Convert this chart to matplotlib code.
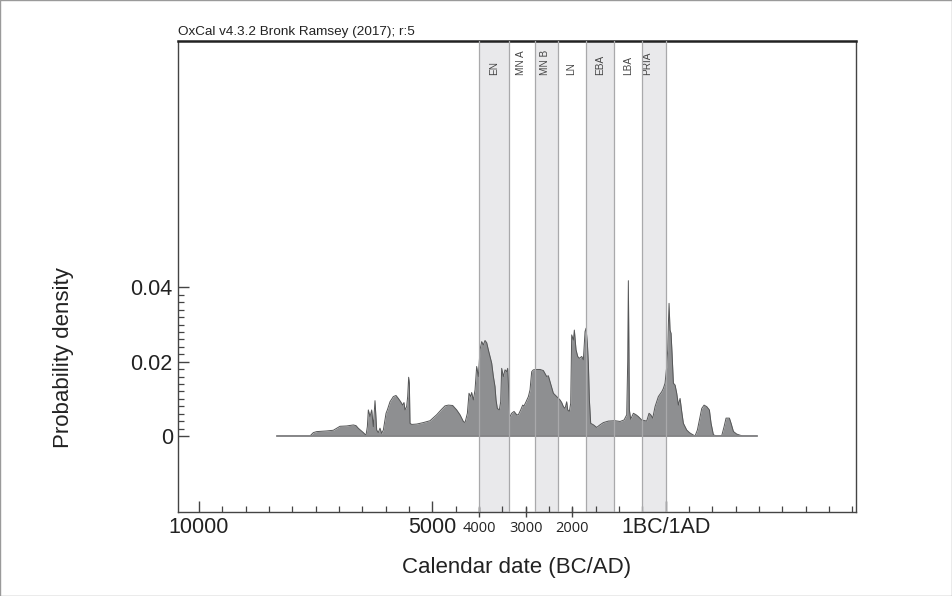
import numpy as np
import matplotlib
matplotlib.use("Agg")
import matplotlib.pyplot as plt
from matplotlib.patches import Rectangle

plt.rcParams["font.family"] = ["Liberation Sans", "DejaVu Sans"]

# summed probability density, calendar years (BC negative)
years = [-8320, -7620, -7548, -7477, -7263, -7120, -7049, -6977, -6834, -6691,
         -6634, -6584, -6477, -6420, -6391, -6370, -6334, -6298, -6263, -6227,
         -6191, -6156, -6120, -6084, -6048, -5991, -5963, -5906, -5834, -5777,
         -5727, -5677, -5634, -5606, -5584, -5549, -5527, -5506, -5491, -5477,
         -5441, -5334, -5191, -5048, -4906, -4798, -4727, -4655, -4563, -4477,
         -4406, -4334, -4298, -4248, -4213, -4177, -4156, -4120, -4084, -4049,
         -4013, -3977, -3941, -3906, -3870, -3834, -3799, -3763, -3727, -3691,
         -3656, -3634, -3606, -3563, -3534, -3513, -3477, -3441, -3406, -3384,
         -3363, -3341, -3299, -3248, -3191, -3156, -3106, -3063, -3034, -2991,
         -2941, -2906, -2870, -2834, -2763, -2691, -2620, -2549, -2513, -2477,
         -2406, -2334, -2263, -2227, -2191, -2156, -2120, -2098, -2063, -2034,
         -2013, -1977, -1956, -1920, -1884, -1849, -1798, -1763, -1727, -1706,
         -1677, -1656, -1634, -1606, -1548, -1477, -1406, -1334, -1227, -1084,
         -977, -891, -834, -813, -799, -784, -777, -749, -691, -634,
         -584, -513, -406, -356, -320, -277, -227, -156, -84, -49,
         -13, 23, 44, 59, 73, 94, 116, 137, 166, 202,
         237, 273, 309, 344, 380, 451, 509, 559, 630, 680,
         723, 773, 823, 880, 937, 973, 1023, 1094, 1202, 1252,
         1294, 1366, 1402, 1452, 1523, 1594, 1652, 1952]
density = [0, 0, 0.0009, 0.00117, 0.00135, 0.00153, 0.00206, 0.0026, 0.00269, 0.00296,
           0.00278, 0.00206, 0.0009, 0.00018, 0.0025, 0.0070, 0.0052, 0.0070, 0.0025, 0.0095,
           0.0016, 0.0009, 0.0021, 0.0007, 0.0016, 0.0061, 0.0070, 0.0092, 0.0106, 0.0109,
           0.0101, 0.0092, 0.0083, 0.0090, 0.0070, 0.0079, 0.0106, 0.0158, 0.0142, 0.0034,
           0.0031, 0.0032, 0.0036, 0.0041, 0.0057, 0.0072, 0.0081, 0.0083, 0.0082, 0.0070,
           0.0057, 0.0039, 0.0036, 0.0061, 0.0115, 0.0106, 0.0117, 0.0097, 0.0124, 0.0187,
           0.0160, 0.0232, 0.0254, 0.0245, 0.0257, 0.0251, 0.0232, 0.0214, 0.0196, 0.0160,
           0.0133, 0.0097, 0.0074, 0.0070, 0.0092, 0.0182, 0.0160, 0.0178, 0.0173, 0.0182,
           0.0124, 0.0050, 0.0061, 0.0066, 0.0057, 0.0057, 0.0070, 0.0083, 0.0081, 0.0092,
           0.0106, 0.0124, 0.0173, 0.0178, 0.0179, 0.0179, 0.0176, 0.0160, 0.0162, 0.0146,
           0.0115, 0.0106, 0.0097, 0.0090, 0.0079, 0.0074, 0.0092, 0.0070, 0.0066, 0.0088,
           0.0272, 0.0258, 0.0285, 0.0232, 0.0214, 0.0209, 0.0214, 0.0205, 0.0281, 0.0290,
           0.0249, 0.0196, 0.0097, 0.0034, 0.0030, 0.0023, 0.0030, 0.0036, 0.0040, 0.0041,
           0.0039, 0.0043, 0.0057, 0.0200, 0.0418, 0.0200, 0.0070, 0.0045, 0.0061, 0.0057,
           0.0052, 0.0043, 0.0040, 0.0061, 0.0057, 0.0048, 0.0079, 0.0106, 0.0119, 0.0128,
           0.0142, 0.0187, 0.0232, 0.0303, 0.0357, 0.0285, 0.0276, 0.0223, 0.0142, 0.0137,
           0.0115, 0.0083, 0.0101, 0.0066, 0.0034, 0.0016, 0.0009, 0.0005, 0, 0.0016,
           0.0043, 0.0074, 0.0083, 0.0079, 0.0070, 0.0034, 0.0003, 0, 0.0001, 0.0025,
           0.0048, 0.0048, 0.0034, 0.0012, 0.0005, 0.0002, 0, 0]

# archaeological periods (start, end in calendar years), shaded or not
periods = ["EN", "MN A", "MN B", "LN", "EBA", "LBA", "PRIA"]
period_start = [-4000, -3350, -2800, -2300, -1700, -1100, -500]
period_end = [-3350, -2800, -2300, -1700, -1100, -500, 0]
period_shaded = [True, False, True, False, True, False, True]
label_pos = [-3680, -3100, -2580, -2030, -1400, -800, -400]

main_ticks = [-10000, -5000, 0]
main_labels = ["10000", "5000", "1BC/1AD"]
extra_ticks = [-4000, -3000, -2000]
extra_labels = ["4000", "3000", "2000"]

fig = plt.figure(figsize=(9.52, 5.96), dpi=100)
ax = fig.add_axes([0.1873, 0.1414, 0.7116, 0.7903])

for s, e, sh in zip(period_start, period_end, period_shaded):
    if sh:
        ax.axvspan(s, e, color="#e9e9eb", lw=0, zorder=0)
bounds = sorted(set(period_start + period_end))
for b in bounds:
    ax.axvline(b, color="#a9a9ab", lw=0.9, zorder=4)

ax.fill_between(years, density, 0, color="#8e8f91", lw=0, zorder=2)
ax.plot(years, density, color="#555657", lw=0.7, zorder=3)
ax.plot([years[0], years[-1]], [0, 0], color="#858587", lw=1.3, zorder=3)

for name, xp in zip(periods, label_pos):
    ax.text(xp, 0.0972, name, rotation=90, ha="center", va="bottom",
            fontsize=7.2, color="#444444")

ax.set_xlim(-10441, 4073)
ax.set_ylim(-0.0204, 0.1064)

ax.set_xticks(main_ticks, main_labels)
ax.set_xticks(np.arange(-10000, 4001, 500), minor=True)
ax.set_yticks([0, 0.02, 0.04], ["0", "0.02", "0.04"])
ax.set_yticks(np.arange(0, 0.0401, 0.002), minor=True)
ax.tick_params(which="major", direction="in", length=8, width=1.0,
               color="#444444", labelsize=15.5, labelcolor="#222222", pad=4)
ax.tick_params(which="minor", direction="in", length=4, width=0.9, color="#444444")

sec = ax.secondary_xaxis("bottom")
sec.set_xticks(extra_ticks, extra_labels, fontfamily="Open Sans")
sec.tick_params(direction="inout", length=7, width=1.0, color="#444444",
                labelsize=10.5, labelcolor="#222222", pad=3)
sec.spines["bottom"].set_visible(False)

for side in ["left", "right", "bottom"]:
    ax.spines[side].set_color("#444444")
    ax.spines[side].set_linewidth(1.0)
ax.spines["top"].set_color("#222222")
ax.spines["top"].set_linewidth(1.8)

ax.text(0.0, 1.006, "OxCal v4.3.2 Bronk Ramsey (2017); r:5", transform=ax.transAxes,
        ha="left", va="bottom", fontsize=9.7, color="#222222")

fig.text(63 / 952, 1 - 358 / 596, "Probability density", rotation=90,
         ha="center", va="center", fontsize=16, color="#222222")
fig.text(517 / 952, 1 - 568 / 596, "Calendar date (BC/AD)",
         ha="center", va="center", fontsize=16, color="#222222")

fig.patches.append(Rectangle((0.0005, 0.0008), 0.999, 0.9985, transform=fig.transFigure,
                             fill=False, ec="#9a9a9a", lw=1.0))

fig.savefig("out.png", dpi=100)
